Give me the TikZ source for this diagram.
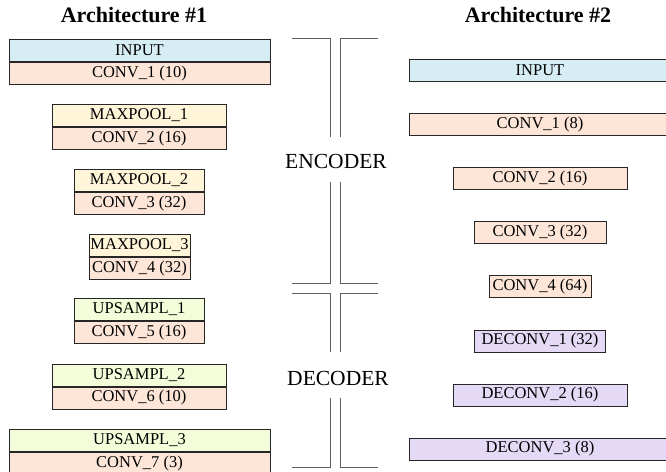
\documentclass[tikz,border=0pt]{standalone}
\usepackage{fontspec}
\setmainfont{Liberation Serif}
\definecolor{inputc}{HTML}{D6EDF3}
\definecolor{convc}{HTML}{FDE6D8}
\definecolor{poolc}{HTML}{FFF6D9}
\definecolor{upc}{HTML}{F4FDD9}
\definecolor{deconvc}{HTML}{E4DAF6}
\definecolor{bracketc}{HTML}{606060}
\tikzset{
  layer/.style={draw=black!85, line width=1pt, minimum height=22pt, inner sep=0pt,
    font=\fontsize{16.5}{16.5}\selectfont, anchor=north},
  inlayer/.style={layer, fill=inputc},
  convlayer/.style={layer, fill=convc},
  poollayer/.style={layer, fill=poolc},
  uplayer/.style={layer, fill=upc},
  deconvlayer/.style={layer, fill=deconvc},
  title/.style={font=\fontsize{22}{22}\selectfont\bfseries, anchor=base},
  partlabel/.style={font=\fontsize{21.5}{21.5}\selectfont, anchor=base},
  bracket/.style={draw=bracketc, line width=1pt}
}
\begin{document}
\begin{tikzpicture}[x=1pt,y=-1pt]
\useasboundingbox (0,0) rectangle (666,471);

% titles
\node[title] (t1) at (134,23) {Architecture \#1};
\node[title] (t2) at (538,23) {Architecture \#2};

% architecture 1: stacked layer pairs
\node[inlayer, minimum width=261pt] (a1) at (139.5,39) {INPUT};
\node[convlayer, minimum width=261pt] (a1c) at (a1.south) {CONV\_1 (10)};
\node[poollayer, minimum width=174pt] (a2) at (139,104) {MAXPOOL\_1};
\node[convlayer, minimum width=174pt] (a2c) at (a2.south) {CONV\_2 (16)};
\node[poollayer, minimum width=130pt] (a3) at (139,169) {MAXPOOL\_2};
\node[convlayer, minimum width=130pt] (a3c) at (a3.south) {CONV\_3 (32)};
\node[poollayer, minimum width=101pt] (a4) at (139.5,234) {MAXPOOL\_3};
\node[convlayer, minimum width=101pt] (a4c) at (a4.south) {CONV\_4 (32)};
\node[uplayer, minimum width=130pt] (a5) at (139,298) {UPSAMPL\_1};
\node[convlayer, minimum width=130pt] (a5c) at (a5.south) {CONV\_5 (16)};
\node[uplayer, minimum width=174pt] (a6) at (139,363.5) {UPSAMPL\_2};
\node[convlayer, minimum width=174pt] (a6c) at (a6.south) {CONV\_6 (10)};
\node[uplayer, minimum width=261pt] (a7) at (139.5,429) {UPSAMPL\_3};
\node[convlayer, minimum width=261pt] (a7c) at (a7.south) {CONV\_7 (3)};

% architecture 2: single layers
\node[inlayer, minimum width=262pt] (b1) at (540,59) {INPUT};
\node[convlayer, minimum width=262pt] (b2) at (540,113) {CONV\_1 (8)};
\node[convlayer, minimum width=174pt] (b3) at (540,167) {CONV\_2 (16)};
\node[convlayer, minimum width=132pt] (b4) at (540,221) {CONV\_3 (32)};
\node[convlayer, minimum width=102pt] (b5) at (540,275) {CONV\_4 (64)};
\node[deconvlayer, minimum width=131pt] (b6) at (540,329.5) {DECONV\_1 (32)};
\node[deconvlayer, minimum width=174pt] (b7) at (540,383.5) {DECONV\_2 (16)};
\node[deconvlayer, minimum width=262pt] (b8) at (540,437.5) {DECONV\_3 (8)};

% encoder / decoder brackets
\node[partlabel] (enc) at (336,168) {ENCODER};
\node[partlabel] (dec) at (338,385) {DECODER};

\draw[bracket] (292,38) -- (330,38) -- (330,137);
\draw[bracket] (378,38) -- (340,38) -- (340,137);
\draw[bracket] (330,182) -- (330,283) -- (292,283);
\draw[bracket] (340,182) -- (340,283) -- (378,283);

\draw[bracket] (292,293) -- (330,293) -- (330,352);
\draw[bracket] (378,293) -- (340,293) -- (340,352);
\draw[bracket] (330,398) -- (330,467) -- (292,467);
\draw[bracket] (340,398) -- (340,467) -- (378,467);
\end{tikzpicture}
\end{document}
